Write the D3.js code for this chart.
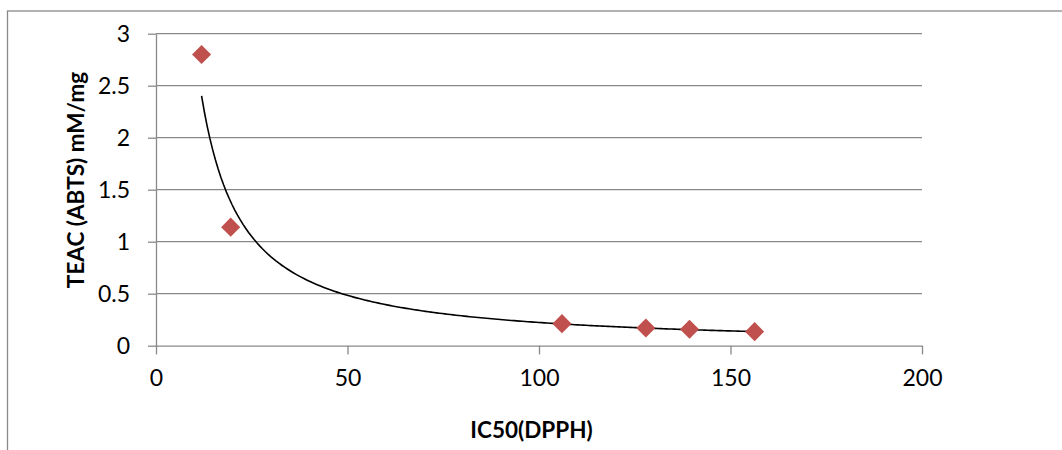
<!DOCTYPE html>
<html>
<head>
<meta charset="utf-8">
<script src="https://cdn.jsdelivr.net/npm/d3@7"></script>
<style>
	body { margin: 0; background: #fff; }
	svg { display: block; font-family: Lato, 'Open Sans', sans-serif; }
	.axis text { font-size: 23px; fill: #000; }
	.axis path, .axis line { stroke: #898989; stroke-width: 1.3; }
	.grid line { stroke: #898989; stroke-width: 1.3; }
	.axis-title { font-size: 22.5px; font-weight: bold; fill: #000; }
</style>
</head>
<body>
<svg id="chart"></svg>
<script>
// values
const ic50 = [11.9, 19.5, 106, 127.9, 139.3, 156.3];
const teac = [2.8, 1.14, 0.212, 0.171, 0.158, 0.135];
const xTicks = [0, 50, 100, 150, 200];
const yTicks = [0, 0.5, 1, 1.5, 2, 2.5, 3];
const xTitle = 'IC50(DPPH)';
const yTitle = 'TEAC (ABTS) mM/mg';

const width = 1062;
const height = 450;
const margin = { top: 33.7, right: 140, bottom: 104.3, left: 156 };

const svg = d3.select('#chart')
	.attr('width', width)
	.attr('height', height);

// chart area border (runs off the right and bottom of the picture)
svg.append('rect')
	.attr('x', 7.5)
	.attr('y', 11)
	.attr('width', 1200)
	.attr('height', 600)
	.attr('fill', 'none')
	.attr('stroke', '#898989')
	.attr('stroke-width', 1.3);

const xScale = d3.scaleLinear()
	.domain([0, 200])
	.range([margin.left, width - margin.right]);

const yScale = d3.scaleLinear()
	.domain([0, 3])
	.range([height - margin.bottom, margin.top]);

// horizontal gridlines
svg.append('g')
	.attr('class', 'grid')
	.selectAll('line')
	.data(yTicks.filter((d) => d > 0))
	.join('line')
	.attr('x1', xScale(0))
	.attr('x2', xScale(200))
	.attr('y1', (d) => yScale(d))
	.attr('y2', (d) => yScale(d));

const xAxis = d3.axisBottom(xScale)
	.tickValues(xTicks)
	.tickFormat((d) => d)
	.tickSize(8.7)
	.tickSizeOuter(0)
	.tickPadding(15);

const yAxis = d3.axisLeft(yScale)
	.tickValues(yTicks)
	.tickFormat((d) => d)
	.tickSize(8)
	.tickSizeOuter(0)
	.tickPadding(18);

svg.append('g')
	.attr('class', 'axis')
	.attr('transform', `translate(${xScale(0)},0)`)
	.call(yAxis)
	.call((g) => g.selectAll('text').attr('font-family', null));

svg.append('g')
	.attr('class', 'axis')
	.attr('transform', `translate(0,${yScale(0)})`)
	.call(xAxis)
	.call((g) => g.selectAll('text').attr('font-family', null));

svg.selectAll('.axis').attr('font-size', null).attr('font-family', null);

// power trendline, least squares on ln(x), ln(y) like Excel
const lx = ic50.map(Math.log);
const ly = teac.map(Math.log);
const mx = d3.mean(lx);
const my = d3.mean(ly);
const b = d3.sum(lx, (v, i) => (v - mx) * (ly[i] - my)) / d3.sum(lx, (v) => (v - mx) * (v - mx));
const a = Math.exp(my - b * mx);
const [xMin, xMax] = d3.extent(ic50);
const trend = d3.range(0, 201).map((i) => {
	const x = xMin + (xMax - xMin) * i / 200;
	return [x, a * Math.pow(x, b)];
});

svg.append('path')
	.datum(trend)
	.attr('fill', 'none')
	.attr('stroke', '#000')
	.attr('stroke-width', 1.6)
	.attr('d', d3.line()
		.x((d) => xScale(d[0]))
		.y((d) => yScale(d[1])));

// diamond markers
const diamond = d3.symbol(d3.symbolSquare, 182);
svg.append('g')
	.selectAll('path')
	.data(ic50.map((x, i) => ({ x, y: teac[i] })))
	.join('path')
	.attr('d', diamond)
	.attr('transform', (d) => `translate(${xScale(d.x)},${yScale(d.y)}) rotate(45)`)
	.attr('fill', '#c0504d');

// axis titles
svg.append('text')
	.attr('class', 'axis-title')
	.attr('x', 531.5)
	.attr('y', 438)
	.attr('text-anchor', 'middle')
	.text(xTitle);

svg.append('text')
	.attr('class', 'axis-title')
	.attr('transform', 'translate(84,180) rotate(-90)')
	.attr('text-anchor', 'middle')
	.text(yTitle);
</script>
</body>
</html>
